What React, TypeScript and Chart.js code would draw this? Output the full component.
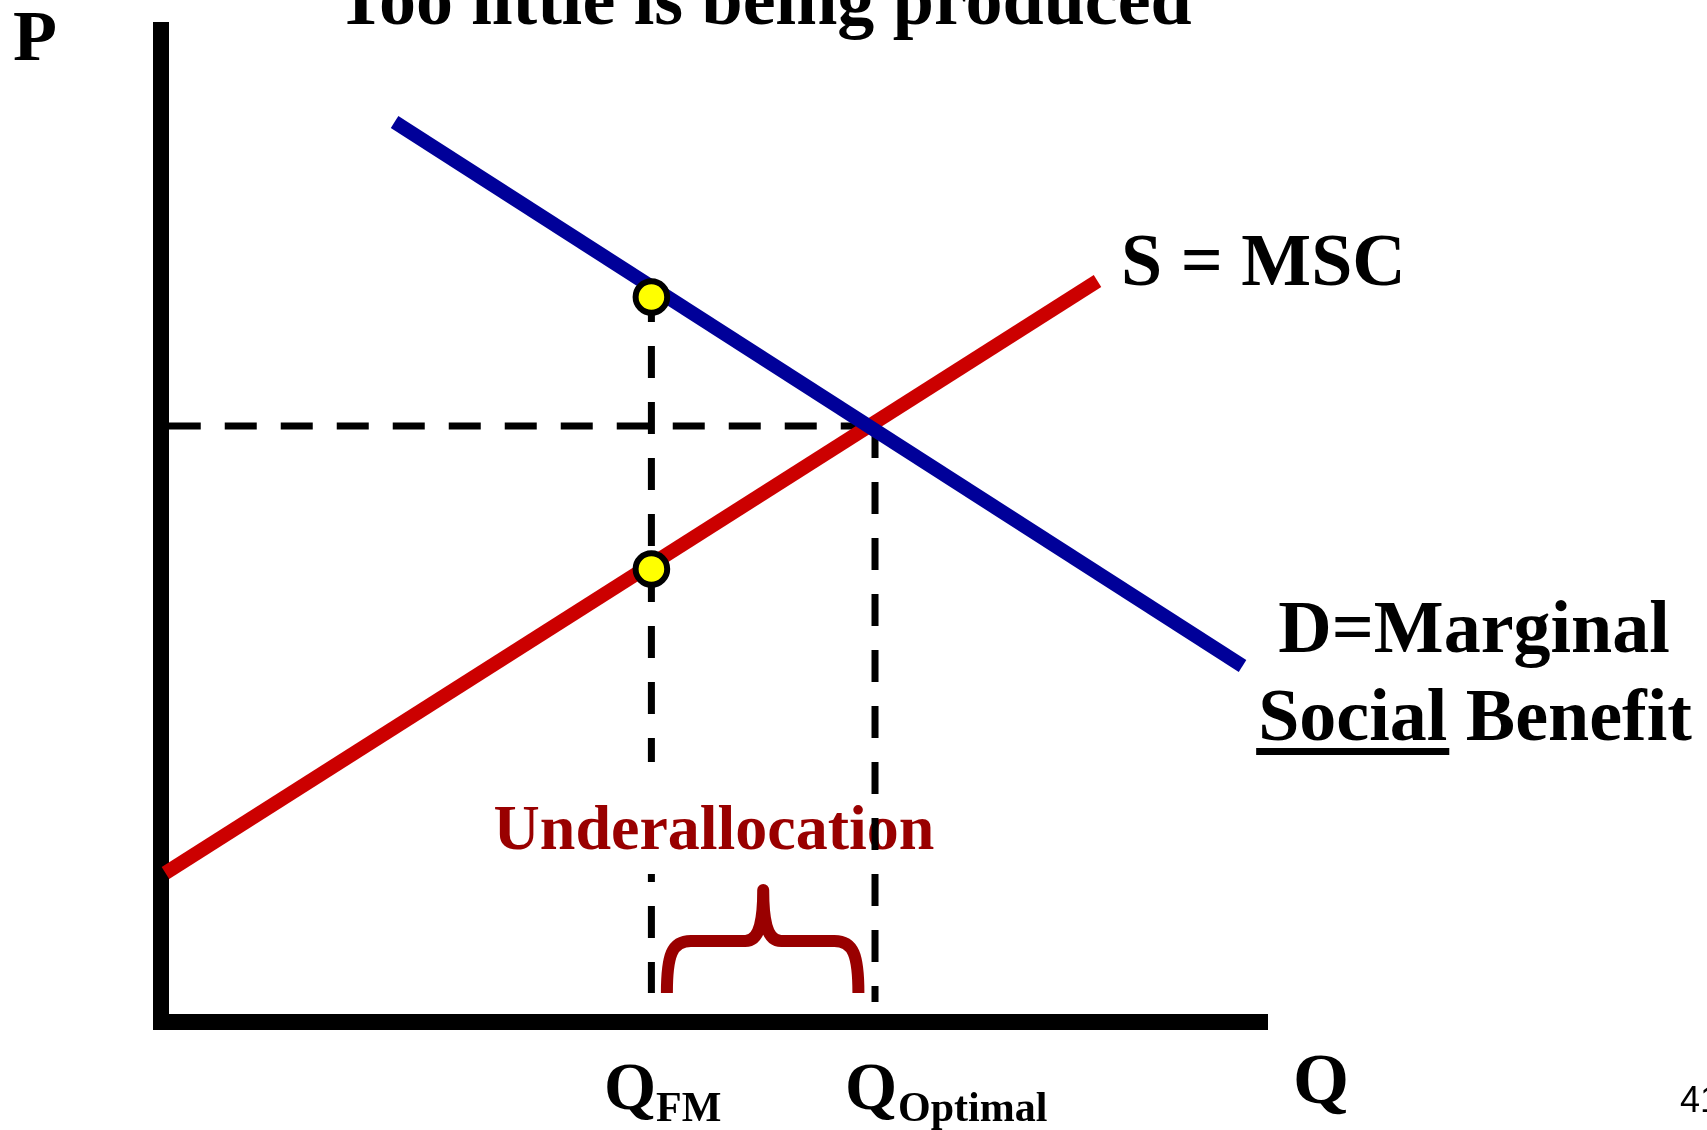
import React, { useEffect, useRef } from "react";
import { Chart, registerables } from "chart.js";

Chart.register(...registerables);

// ---- data (Q on x axis, P on y axis, arbitrary units 0..10) ----
const demandQ = [2.11, 9.77];
const demandP = [9.0, 3.56];
const supplyQ = [0.04, 8.46];
const supplyP = [1.49, 7.41];
const qFM = 4.43;
const qOptimal = 6.45;
const pOptimal = 5.96;
const markerQ = [4.43, 4.43];
const markerP = [7.25, 4.53];
const dashFMTopP = 7.32;
const dashFMBottomP = 0.29;
const dashOptBottomP = 0.2;
const hDashStartQ = 0.07;
const axisPRange = [-0.08, 10];
const axisQRange = [-0.072, 10];
const braceQ = [4.57, 5.44, 6.3]; // left end, tip, right end
const braceP = [0.29, 0.81, 1.32]; // bottom ends, bar, tip

// ---- text ----
const titleText = "Too little is being produced";
const pLabel = "P";
const qLabel = "Q";
const supplyLabel = "S = MSC";
const demandLabel = ["D=Marginal", "Social", " Benefit"];
const gapLabel = "Underallocation";
const qTickLabels = [
  ["Q", "FM"],
  ["Q", "Optimal"],
];
const slideNumber = "41";

const SERIF = '"Liberation Serif", "Times New Roman", serif';
const DARK_RED = "#990000";

const line = (
  label: string,
  xs: number[],
  ys: number[],
  color: string,
  width: number,
  order: number,
  dash: number[] = []
) => ({
  label,
  data: xs.map((x, i) => ({ x, y: ys[i] })),
  showLine: true,
  borderColor: color,
  backgroundColor: color,
  borderWidth: width,
  borderDash: dash,
  borderCapStyle: "butt",
  pointRadius: 0,
  pointHoverRadius: 0,
  tension: 0,
  fill: false,
  clip: false,
  order,
});

const RIGHT_DASH_INDEX = 5;

export default function App() {
  const ref = useRef<HTMLCanvasElement | null>(null);

  useEffect(() => {
    if (!ref.current) return;

    const annot = {
      id: "annot",
      beforeDatasetDraw(chart: any, args: any) {
        if (args.index !== RIGHT_DASH_INDEX) return;
        const ctx = chart.ctx;
        ctx.save();
        ctx.fillStyle = "#ffffff";
        ctx.fillRect(490, 762, 450, 112);
        ctx.font = `bold 64px ${SERIF}`;
        ctx.fillStyle = DARK_RED;
        ctx.textAlign = "center";
        ctx.textBaseline = "alphabetic";
        ctx.fillText(gapLabel, 714, 849);
        ctx.restore();
      },
      afterDatasetsDraw(chart: any) {
        const ctx = chart.ctx;
        const xs = chart.scales.x;
        const ys = chart.scales.y;
        const px = (v: number) => xs.getPixelForValue(v);
        const py = (v: number) => ys.getPixelForValue(v);

        // brace
        const xL = px(braceQ[0]);
        const xM = px(braceQ[1]);
        const xR = px(braceQ[2]);
        const yB = py(braceP[0]);
        const yH = py(braceP[1]);
        const yT = py(braceP[2]);
        ctx.save();
        ctx.strokeStyle = DARK_RED;
        ctx.lineWidth = 12;
        ctx.lineCap = "butt";
        ctx.lineJoin = "round";
        ctx.beginPath();
        ctx.moveTo(xL, yB);
        ctx.bezierCurveTo(xL, yH + 14, xL + 5, yH, xL + 24, yH);
        ctx.lineTo(xM - 18, yH);
        ctx.bezierCurveTo(xM - 4, yH, xM, yH - 18, xM, yT);
        ctx.bezierCurveTo(xM, yH - 18, xM + 4, yH, xM + 18, yH);
        ctx.lineTo(xR - 24, yH);
        ctx.bezierCurveTo(xR - 5, yH, xR, yH + 14, xR, yB);
        ctx.stroke();
        ctx.restore();

        // texts
        ctx.save();
        ctx.fillStyle = "#000";
        ctx.textBaseline = "alphabetic";
        ctx.textAlign = "center";
        ctx.font = `bold 74px ${SERIF}`;
        ctx.fillText(titleText, 764, 24);

        ctx.textAlign = "left";
        ctx.font = `bold 72px ${SERIF}`;
        ctx.fillText(pLabel, 13, 60);
        ctx.fillText(qLabel, 1293, 1103);

        ctx.font = `bold 74px ${SERIF}`;
        ctx.fillText(supplyLabel, 1121, 285);

        ctx.textAlign = "center";
        ctx.fillText(demandLabel[0], 1474, 652);
        ctx.textAlign = "left";
        const wSocial = ctx.measureText(demandLabel[1]).width;
        const wBenefit = ctx.measureText(demandLabel[2]).width;
        const startX = 1475 - (wSocial + wBenefit) / 2;
        ctx.fillText(demandLabel[1], startX, 740);
        ctx.fillText(demandLabel[2], startX + wSocial, 740);
        ctx.fillRect(startX - 2, 748, wSocial + 4, 7);

        // Q tick labels with subscripts
        const qLeft = [604, 845];
        const subLeft = [656, 898];
        qTickLabels.forEach((lab, i) => {
          ctx.font = `bold 67px ${SERIF}`;
          ctx.fillText(lab[0], qLeft[i], 1109);
          ctx.font = `bold 42px ${SERIF}`;
          ctx.fillText(lab[1], subLeft[i], 1121);
        });

        ctx.font = `36px "Liberation Sans", Arial, sans-serif`;
        ctx.fillText(slideNumber, 1680, 1112);
        ctx.restore();
      },
    };

    const datasets: any[] = [
      // 0 axes
      line("P axis", [0, 0], [axisPRange[1], axisPRange[0]], "#000", 16, 7),
      line("Q axis", [axisQRange[0], axisQRange[1]], [0, 0], "#000", 16, 7),
      // 2 price dash
      line("P optimal", [hDashStartQ, qOptimal], [pOptimal, pOptimal], "#000", 7, 5, [32, 24]),
      // 3 QFM dash
      line("Q FM", [qFM, qFM], [dashFMTopP, dashFMBottomP], "#000", 7, 4, [32, 24]),
      // 4 supply
      line("S = MSC", supplyQ, supplyP, "#CC0000", 14, 2),
      // 5 QOptimal dash
      line("Q optimal", [qOptimal, qOptimal], [pOptimal, dashOptBottomP], "#000", 7, 3, [32, 24]),
      // 6 demand
      line("D = MSB", demandQ, demandP, "#000099", 14, 1),
      // 7 markers
      {
        label: "points",
        data: markerQ.map((x, i) => ({ x, y: markerP[i] })),
        showLine: false,
        pointRadius: 15.8,
        pointHoverRadius: 15.8,
        pointBackgroundColor: "#FFFF00",
        pointBorderColor: "#000",
        pointBorderWidth: 6,
        clip: false,
        order: 0,
      },
    ];

    const chart = new Chart(ref.current, {
      type: "scatter",
      data: { datasets },
      options: {
        responsive: false,
        animation: false,
        devicePixelRatio: 1,
        events: [],
        layout: { padding: { left: 161, right: 439, top: 22, bottom: 108 } },
        scales: {
          x: { type: "linear", min: 0, max: 10, display: false },
          y: { type: "linear", min: 0, max: 10, display: false },
        },
        plugins: { legend: { display: false }, tooltip: { enabled: false } },
      },
      plugins: [annot],
    } as any);

    return () => chart.destroy();
  }, []);

  return (
    <div style={{ position: "absolute", left: 0, top: 0, width: 1707, height: 1130, background: "#fff" }}>
      <canvas ref={ref} width={1707} height={1130} style={{ display: "block", width: 1707, height: 1130 }} />
    </div>
  );
}
